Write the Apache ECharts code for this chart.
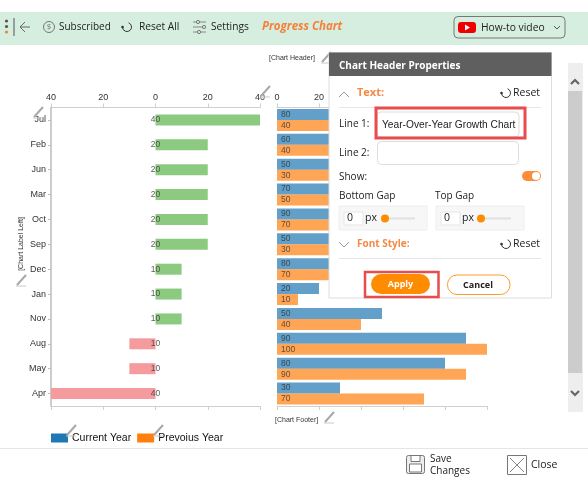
<!DOCTYPE html>
<html><head><meta charset="utf-8">
<style>html,body{margin:0;padding:0;background:#fff}#c{width:588px;height:492px}</style>
<script src="https://cdn.jsdelivr.net/npm/echarts@6/dist/echarts.min.js"></script>
</head><body><div id="c"></div>
<script>
const months = ['Jul','Feb','Jun','Mar','Oct','Sep','Dec','Jan','Nov','Aug','May','Apr'];
const currentYear = [80,60,50,70,90,50,80,20,50,90,80,30];
const previousYear = [40,40,30,50,70,30,70,10,40,100,90,70];
const change = [40,20,20,20,20,20,10,10,10,-10,-10,-40];
const seriesNames = ['Current Year','Prevoius Year'];

const UI = '"Open Sans"', CH = '"Liberation Sans"';
const Z = 100;
const g = [];
const add = (type, o) => { g.push(Object.assign({}, o, {type, z:o.z||Z, silent:true})); };
const rect = (x,y,w,h,fill,stroke,r,lw,z) => add('rect',{z,shape:{x,y,width:w,height:h,r:r||0},style:{fill:fill||'transparent',stroke:stroke||null,lineWidth:lw||1}});
const text = (s,x,y,font,fill,align,z,rot) => add('text',{z,x,y,rotation:rot||0,style:{text:s,x:0,y:0,font,fill:fill||'#222',align:align||'left',verticalAlign:'middle'}});
const line = (pts,stroke,lw,z) => add('polyline',{z,shape:{points:pts},style:{stroke,lineWidth:lw||1,fill:null}});
const circle = (cx,cy,r,fill,stroke,lw,z) => add('circle',{z,shape:{cx,cy,r},style:{fill:fill||'transparent',stroke:stroke||null,lineWidth:lw||1}});
const resetIcon = (cx,cy,z) => {
  add('arc',{z,shape:{cx,cy,r:4.5,startAngle:-1.2,endAngle:3.2,clockwise:true},style:{stroke:'#333',lineWidth:1,fill:null}});
  circle(cx-4.5,cy,1.3,'#333',null,1,z);
};
const pencil = (x,y,z) => {
  line([[x,y+10],[x+9,y]],'#a8a8a8',2,z||20);
  line([[x-1,y+11],[x+9,y+11]],'#c8c8c8',1,z||20);
};

// toolbar
rect(0,12,588,33,'#d5eee0',null,0,1,5);
circle(6.5,21,1.6,'#555',null,1,6); circle(6.5,26.5,1.6,'#555',null,1,6); circle(6.5,32,1.6,'#f5813a',null,1,6);
line([[14,18],[14,36]],'#555',1,6);
line([[30,27],[20,27]],'#666',1,6); line([[25,22],[20,27],[25,32]],'#666',1,6);
circle(49,27,5.5,null,'#777',1,6); text('$',49,27,'8px '+UI,'#777','center',6);
text('Subscribed',59,27,'10px '+UI,'#222','left',6);
resetIcon(127,27,6);
text('Reset All',139,27,'10.2px '+UI,'#222','left',6);
[[22,198],[27,204],[32,199]].forEach(p=>{ line([[193,p[0]],[206,p[0]]],'#888',1,6); circle(p[1],p[0],1.6,'#d5eee0','#777',1,6); });
text('Settings',211,27,'10.2px '+UI,'#222','left',6);
text('Progress Chart',262,27,'italic bold 11.5px '+UI,'#f5813a','left',6);
rect(454,16.5,111,21.5,'transparent','#777',4,1,6);
rect(458,22,18,11,'#ee0000',null,3,1,6);
add('polygon',{z:7,shape:{points:[[465,24.5],[465,30.5],[470,27.5]]},style:{fill:'#fff'}});
text('How-to video',481,28,'10.3px '+UI,'#222','left',6);
line([[554,26],[557,29],[560,26]],'#555',1,6);

// small chart placeholders and edit pencils
text('[Chart Header]',269,58.5,'7px '+CH,'#333','left',20);
text('[Chart Footer]',275,420.5,'7px '+CH,'#333','left',20);
text('[Chart Label Left]',21,244,'7px '+CH,'#333','center',20,Math.PI/2);
pencil(322,52); pencil(34,107); pencil(261,86); pencil(17,275); pencil(325,412); pencil(67,425); pencil(154,425);

// scrollbar
rect(568,63,15,349,'#eeeeee',null,0,1,50);
rect(568,91,14,282,'#cccccc',null,0,1,51);
line([[571,84],[575,80],[579,84]],'#666',2.2,52);
line([[571,391],[575,395],[579,391]],'#666',2.2,52);

// properties panel
rect(329,52.5,222.5,245.5,'#fff','#dddddd',0,1);
rect(329,52.5,222.5,23.5,'#5f5f5f');
text('Chart Header Properties',339,66,'bold 10px '+UI,'#fff');
line([[339,97],[344,92],[349,97]],'#999',1);
text('Text:',357,93,'bold 11px '+UI,'#f58a45');
resetIcon(506,93); text('Reset',513,93,'10.5px '+UI,'#222');
line([[339,107.5],[541,107.5]],'#e6e6e6',1);
text('Line 1:',339,124.5,'10px '+UI,'#222');
rect(377,112,142,25,'#fff','#dddddd',4,1);
rect(376,108,149,30,'transparent','#e84c4c',0,3);
text('Year-Over-Year Growth Chart',382,125,'10.2px '+CH,'#222');
text('Line 2:',339,153.5,'10px '+UI,'#222');
rect(377.5,141.5,141,23,'#fff','#dddddd',4,1);
text('Show:',339,177,'10px '+UI,'#222');
rect(522,171,19,10,'#ff8c3a',null,5);
circle(536,176,4,'#fff');
text('Bottom Gap',339,196,'10px '+UI,'#222');
text('Top Gap',435,196,'10px '+UI,'#222');
[[339,344,365,385,415],[436,441,462,481,511]].forEach(a=>{
  rect(a[0],206,88,24,'#f7f7f7','#eeeeee',0,1);
  rect(a[1],212,19,13,'#fff','#e6e6e6',0,1);
  text('0',a[1]+3,218.5,'10.5px '+UI,'#222');
  text('px',a[2],218.5,'10.5px '+UI,'#222');
  line([[a[3],218.5],[a[4],218.5]],'#e0e0e0',2);
  circle(a[3],218.5,4,'#ff8c00');
});
line([[339,242],[344,247],[349,242]],'#999',1);
text('Font Style:',357,244,'bold 10px '+UI,'#f58a45');
resetIcon(506,244); text('Reset',513,244,'10.5px '+UI,'#222');
line([[339,258.5],[541,258.5]],'#e6e6e6',1);
rect(365,272,73.5,25,'transparent','#e84c4c',0,2.5);
rect(371,274,59,20,'#ff8c00',null,10);
text('Apply',400.5,284,'bold 9px '+UI,'#fff','center');
rect(447.5,275,62.5,19.5,'#fff','#ff9a2a',9.5,1);
text('Cancel',478,285,'bold 9px '+UI,'#222','center');

// footer
line([[0,448.5],[588,448.5]],'#e5e5e5',1,5);
rect(406.5,455.5,18,18,'#eeeeee','#777',2,1,6);
rect(411,455.5,9,6,'#fff','#777',0,1,7);
rect(409.5,464,12,8,'#fff','#777',0,1,7);
text('Save',430,459,'10px '+UI,'#222','left',6);
text('Changes',430,471,'10px '+UI,'#222','left',6);
rect(507.5,455.5,19,19,'#fff','#777',0,1,6);
line([[510,458],[524,472]],'#888',1,7); line([[524,458],[510,472]],'#888',1,7);
text('Close',531,465,'10.5px '+UI,'#222','left',6);

const axisLine = {show:true,lineStyle:{color:'#cfcfcf',width:1}};
const axisTick = {show:true,length:4,lineStyle:{color:'#cfcfcf'}};
const axisLabel = {show:true,fontFamily:CH,fontSize:9,color:'#333',margin:5};
const xCommon = {type:'value',splitLine:{show:false},axisLine,axisTick};
const yCommon = {type:'category',data:months,inverse:true};

const option = {
  animation:false,
  backgroundColor:'#fff',
  legend:{
    left:46,top:427.5,itemWidth:17,itemHeight:9,itemGap:6,icon:'rect',
    textStyle:{fontFamily:CH,fontSize:10.5,color:'#111',padding:[-4,0,0,-1]},
    data:seriesNames.map((name,i)=>({name,itemStyle:{color:['#1f77b4','#ff7f0e'][i],opacity:1}}))
  },
  grid:[
    {left:51,top:107.5,width:209,height:298.5},
    {left:277,top:107.5,width:210,height:298.5}
  ],
  xAxis:[
    Object.assign({},xCommon,{gridIndex:0,position:'top',min:-40,max:40,interval:20,
      axisLabel:Object.assign({},axisLabel,{formatter:v=>Math.abs(v)})}),
    Object.assign({},xCommon,{gridIndex:0,position:'bottom',min:-40,max:40,interval:20,axisLabel:{show:false}}),
    Object.assign({},xCommon,{gridIndex:1,position:'top',min:0,max:100,interval:20,axisLabel}),
    Object.assign({},xCommon,{gridIndex:1,position:'bottom',min:0,max:100,interval:20,axisLabel:{show:false}})
  ],
  yAxis:[
    Object.assign({},yCommon,{gridIndex:0,position:'left',
      axisLine:{show:true,onZero:false,lineStyle:{color:'#bdbdbd',width:1.5}},
      axisTick:{show:true,length:3,alignWithLabel:true,interval:0,lineStyle:{color:'#bdbdbd'}},
      axisLabel:{show:true,interval:0,fontFamily:CH,fontSize:9,color:'#333',margin:5}}),
    Object.assign({},yCommon,{gridIndex:1,show:false})
  ],
  series:[
    {type:'bar',name:'Growth',xAxisIndex:0,yAxisIndex:0,barWidth:11,data:change,silent:true,
     itemStyle:{color:p=>p.value>=0?'#8ccb7f':'#f59b9d'}},
    {type:'scatter',name:'GrowthLabels',xAxisIndex:0,yAxisIndex:0,symbolSize:1,silent:true,z:5,
     itemStyle:{color:'transparent'},
     data:months.map((m,i)=>[0,m,Math.abs(change[i])]),
     label:{show:true,position:'inside',fontFamily:CH,fontSize:8.5,color:'#333',formatter:p=>p.value[2]}},
    {type:'bar',name:seriesNames[0],xAxisIndex:2,yAxisIndex:1,barWidth:11,barGap:0,data:currentYear,silent:true,
     itemStyle:{color:'#1f77b4',opacity:0.7},
     label:{show:true,position:'insideLeft',distance:4,fontFamily:CH,fontSize:8.5,color:'#222'}},
    {type:'bar',name:seriesNames[1],xAxisIndex:2,yAxisIndex:1,barWidth:11,barGap:0,data:previousYear,silent:true,
     itemStyle:{color:'#ff7f0e',opacity:0.7},
     label:{show:true,position:'insideLeft',distance:4,fontFamily:CH,fontSize:8.5,color:'#222'}}
  ],
  graphic:{elements:g}
};
echarts.init(document.getElementById('c')).setOption(option);
</script></body></html>
